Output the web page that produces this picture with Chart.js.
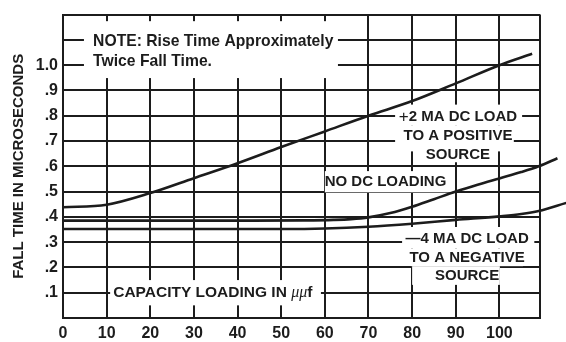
<!DOCTYPE html>
<html>
<head>
<meta charset="utf-8">
<script src="https://cdn.jsdelivr.net/npm/chart.js@4.4.1/dist/chart.umd.min.js"></script>
<style>
  html, body { margin: 0; padding: 0; background: #fff; }
  canvas { display: block; }
</style>
</head>
<body>
<canvas id="chart" width="566" height="342"></canvas>
<script>
// Tick labels
const capacityTicks = ['0', '10', '20', '30', '40', '50', '60', '70', '80', '90', '100'];
const fallTimeTicks = ['.1', '.2', '.3', '.4', '.5', '.6', '.7', '.8', '.9', '1.0'];

// +2 MA DC load to a positive source
const posLoadCap  = [0, 10, 20, 30, 40, 50, 60, 70, 80, 90, 100, 107.5];
const posLoadFall = [0.438, 0.448, 0.494, 0.553, 0.612, 0.676, 0.738, 0.800, 0.858, 0.928, 1.000, 1.045];

// No DC loading
const noLoadCap  = [0, 20, 40, 55, 62, 66, 70, 75, 80, 85, 90, 95, 100, 105, 109, 113.3];
const noLoadFall = [0.385, 0.385, 0.385, 0.386, 0.388, 0.391, 0.398, 0.415, 0.440, 0.470, 0.500, 0.527, 0.552, 0.577, 0.600, 0.632];

// -4 MA DC load to a negative source
const negLoadCap  = [0, 20, 40, 50, 60, 70, 80, 90, 100, 105, 109, 115.3];
const negLoadFall = [0.352, 0.352, 0.352, 0.352, 0.354, 0.361, 0.373, 0.388, 0.402, 0.411, 0.423, 0.455];

const CAP_MAX = 109.3;

const ink = '#1c1c1c';
const fonts = {
  b15: 'bold 15px "Liberation Sans", Arial, sans-serif',
  b155: 'bold 15.5px "Liberation Sans", Arial, sans-serif',
  b16: 'bold 15.7px "Liberation Sans", Arial, sans-serif',
  plus: '17px "Liberation Sans", Arial, sans-serif',
  mu: 'italic 16px "Liberation Serif", serif'
};

const pts = (xs, ys) => xs.map((v, i) => ({ x: v, y: ys[i] }));

// Text blocks on the grid; each block blanks the grid behind it
const notes = [
  {
    lines: [[['NOTE: Rise Time Approximately', 'b16']], [['Twice Fall Time.', 'b16']]],
    at: [6.9, 1.092], align: 'left', gap: 19.5,
    masks: [[4.8, 1.174, 63.0, 0.949]]
  },
  {
    lines: [[['+', 'plus'], ['2 MA DC LOAD', 'b15']], [['TO A POSITIVE', 'b15']], [['SOURCE', 'b15']]],
    at: [90.5, 0.794], align: 'center', gap: 19,
    masks: [[76.1, 0.844, 105.2, 0.760], [76.1, 0.760, 103.3, 0.659], [80.4, 0.659, 99.4, 0.616]]
  },
  {
    lines: [[['NO DC LOADING', 'b15']]],
    at: [73.9, 0.538], align: 'center', gap: 19,
    masks: [[60.0, 0.581, 89.3, 0.497]]
  },
  {
    lines: [[['\u2014', 'b15'], ['4 MA DC LOAD', 'b15']], [['TO A NEGATIVE', 'b15']], [['SOURCE', 'b15']]],
    at: [92.6, 0.313], align: 'center', gap: 18.5,
    masks: [[77.7, 0.360, 108.0, 0.274], [79.7, 0.274, 105.4, 0.205], [80.0, 0.205, 100.1, 0.131]]
  },
  {
    lines: [[['CAPACITY LOADING IN ', 'b155'], ['\u03bc\u03bc', 'mu'], ['f', 'b155']]],
    at: [11.5, 0.100], align: 'left', gap: 19,
    masks: [[10.8, 0.150, 59.1, 0.050]]
  }
];

const notesPlugin = {
  id: 'gridNotes',
  beforeDatasetsDraw(chart) {
    const { ctx, scales: { x, y } } = chart;
    ctx.save();
    ctx.fillStyle = '#fff';
    notes.forEach(n => n.masks.forEach(([x0, y0, x1, y1]) => {
      const px0 = x.getPixelForValue(x0), px1 = x.getPixelForValue(x1);
      const py0 = y.getPixelForValue(y0), py1 = y.getPixelForValue(y1);
      ctx.fillRect(px0, py0, px1 - px0, py1 - py0);
    }));
    ctx.fillStyle = ink;
    ctx.textBaseline = 'middle';
    ctx.textAlign = 'left';
    notes.forEach(n => {
      const cx = x.getPixelForValue(n.at[0]);
      const cy = y.getPixelForValue(n.at[1]);
      n.lines.forEach((segs, i) => {
        let w = 0;
        segs.forEach(([t, f]) => { ctx.font = fonts[f]; w += ctx.measureText(t).width; });
        let px = n.align === 'left' ? cx : cx - w / 2;
        segs.forEach(([t, f]) => {
          ctx.font = fonts[f];
          ctx.fillText(t, px, cy + i * n.gap);
          px += ctx.measureText(t).width;
        });
      });
    });
    ctx.restore();
  }
};

const lineStyle = {
  borderColor: ink,
  borderWidth: 2.6,
  pointRadius: 0,
  fill: false,
  cubicInterpolationMode: 'monotone',
  clip: false
};

new Chart(document.getElementById('chart'), {
  type: 'line',
  data: {
    datasets: [
      { label: '+2 MA DC LOAD TO A POSITIVE SOURCE', data: pts(posLoadCap, posLoadFall), ...lineStyle },
      { label: 'NO DC LOADING', data: pts(noLoadCap, noLoadFall), ...lineStyle },
      { label: '-4 MA DC LOAD TO A NEGATIVE SOURCE', data: pts(negLoadCap, negLoadFall), ...lineStyle }
    ]
  },
  options: {
    responsive: false,
    animation: false,
    devicePixelRatio: 1,
    layout: { padding: { top: 9, right: 26, left: 0, bottom: 0 } },
    plugins: { legend: { display: false }, tooltip: { enabled: false } },
    scales: {
      x: {
        type: 'linear',
        min: 0,
        max: CAP_MAX,
        afterFit: s => { s.height = 24; },
        // one tick per labelled value, plus the right edge of the frame
        afterBuildTicks: s => {
          s.ticks = capacityTicks.map(t => ({ value: Number(t) })).concat([{ value: CAP_MAX }]);
        },
        ticks: {
          padding: 6,
          color: ink,
          autoSkip: false,
          maxRotation: 0,
          font: { family: '"Liberation Sans", Arial, sans-serif', size: 16, weight: 'bold' },
          callback: v => {
            const i = Math.round(v / 10);
            return Math.abs(v - i * 10) < 1e-6 && i < capacityTicks.length ? capacityTicks[i] : '';
          }
        },
        grid: { color: ink, lineWidth: 2, drawTicks: false },
        border: { color: ink, width: 2 }
      },
      y: {
        type: 'linear',
        min: 0,
        max: 1.2,
        afterFit: s => { s.width = 63; },
        ticks: {
          stepSize: 0.1,
          padding: 5,
          color: ink,
          autoSkip: false,
          font: { family: '"Liberation Sans", Arial, sans-serif', size: 16, weight: 'bold' },
          callback: v => {
            const i = Math.round(v * 10);
            return i >= 1 && i <= fallTimeTicks.length ? fallTimeTicks[i - 1] : '';
          }
        },
        grid: { color: ink, lineWidth: 2, drawTicks: false },
        border: { color: ink, width: 2 },
        title: {
          display: true,
          text: 'FALL TIME IN MICROSECONDS',
          color: ink,
          font: { family: '"Liberation Sans", Arial, sans-serif', size: 15, weight: 'bold' },
          padding: { top: 10, bottom: 0 }
        }
      }
    }
  },
  plugins: [notesPlugin]
});
</script>
</body>
</html>
